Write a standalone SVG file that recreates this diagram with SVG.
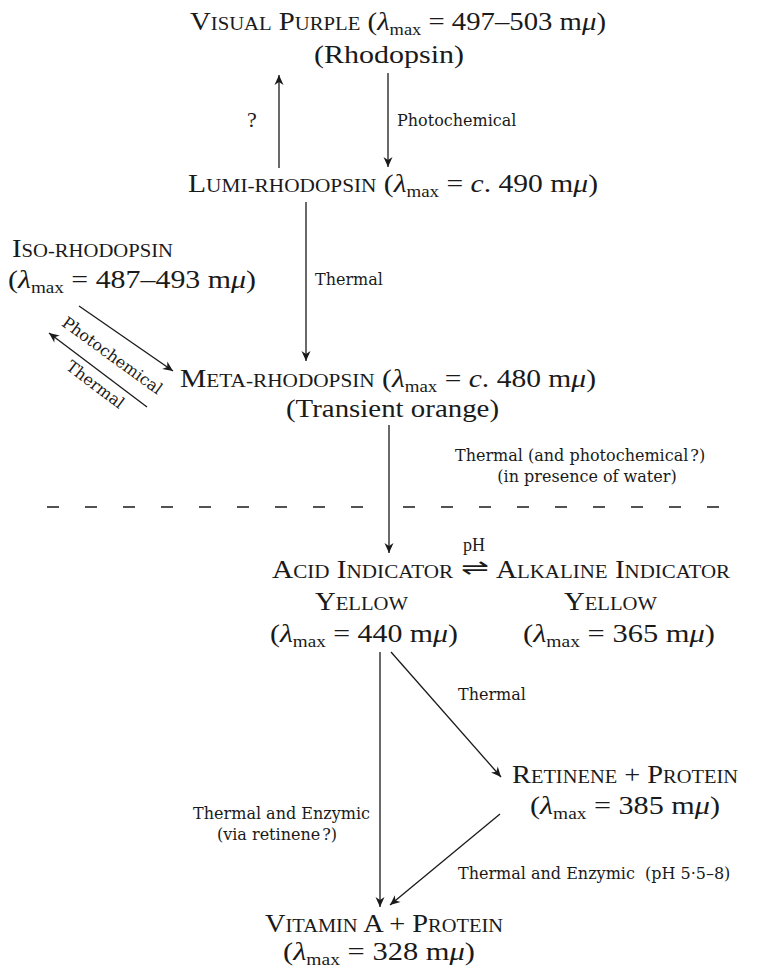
<svg xmlns="http://www.w3.org/2000/svg" width="781" height="968" viewBox="0 0 781 968">
<style>
.m{font-family:"Liberation Serif","Times New Roman",serif;font-size:25px;fill:#1a1a1a}
.sc{font-size:18px}
.sub{font-size:16px}
.it{font-style:italic}
.l{font-family:"DejaVu Serif",serif;font-size:16px;fill:#1a1a1a}
.c{stroke:#1a1a1a;stroke-width:1.3;fill:none}
.d{stroke:#1a1a1a;stroke-width:1.3;stroke-dasharray:12 26;fill:none}
</style>
<defs>
<marker id="ah" viewBox="-11 -6 12 12" refX="0" refY="0" markerWidth="12" markerHeight="12" markerUnits="userSpaceOnUse" orient="auto">
<path d="M0,0 L-10,-4.5 L-7,0 L-10,4.5 Z" fill="#1a1a1a"/>
</marker>
</defs>
<rect width="781" height="968" fill="#fff"/>

<g id="node-visual-purple">
<text class="m" x="190" y="30" textLength="416" lengthAdjust="spacingAndGlyphs">V<tspan class="sc">ISUAL</tspan> P<tspan class="sc">URPLE</tspan> (<tspan class="it">λ</tspan><tspan class="sub" dy="5">max</tspan><tspan dy="-5"> = 497–503 m</tspan><tspan class="it">μ</tspan>)</text>
<text class="m" x="314" y="63" textLength="150" lengthAdjust="spacingAndGlyphs">(Rhodopsin)</text>
</g>

<g id="node-lumi-rhodopsin">
<text class="m" x="188" y="192" textLength="410" lengthAdjust="spacingAndGlyphs">L<tspan class="sc">UMI-RHODOPSIN</tspan> (<tspan class="it">λ</tspan><tspan class="sub" dy="5">max</tspan><tspan dy="-5"> = </tspan><tspan class="it">c</tspan>. 490 m<tspan class="it">μ</tspan>)</text>
</g>

<g id="node-iso-rhodopsin">
<text class="m" x="12" y="257" textLength="161" lengthAdjust="spacingAndGlyphs">I<tspan class="sc">SO-RHODOPSIN</tspan></text>
<text class="m" x="8" y="288" textLength="248" lengthAdjust="spacingAndGlyphs">(<tspan class="it">λ</tspan><tspan class="sub" dy="5">max</tspan><tspan dy="-5"> = 487–493 m</tspan><tspan class="it">μ</tspan>)</text>
</g>

<g id="node-meta-rhodopsin">
<text class="m" x="180" y="387" textLength="416" lengthAdjust="spacingAndGlyphs">M<tspan class="sc">ETA-RHODOPSIN</tspan> (<tspan class="it">λ</tspan><tspan class="sub" dy="5">max</tspan><tspan dy="-5"> = </tspan><tspan class="it">c</tspan>. 480 m<tspan class="it">μ</tspan>)</text>
<text class="m" x="286" y="417" textLength="213" lengthAdjust="spacingAndGlyphs">(Transient orange)</text>
</g>

<g id="node-acid-indicator">
<text class="m" x="272" y="578" textLength="181" lengthAdjust="spacingAndGlyphs">A<tspan class="sc">CID</tspan> I<tspan class="sc">NDICATOR</tspan></text>
<text class="m" x="315" y="610" textLength="93" lengthAdjust="spacingAndGlyphs">Y<tspan class="sc">ELLOW</tspan></text>
<text class="m" x="270" y="642" textLength="188" lengthAdjust="spacingAndGlyphs">(<tspan class="it">λ</tspan><tspan class="sub" dy="5">max</tspan><tspan dy="-5"> = 440 m</tspan><tspan class="it">μ</tspan>)</text>
</g>

<g id="node-alkaline-indicator">
<text class="m" x="496" y="578" textLength="234" lengthAdjust="spacingAndGlyphs">A<tspan class="sc">LKALINE</tspan> I<tspan class="sc">NDICATOR</tspan></text>
<text class="m" x="564" y="610" textLength="93" lengthAdjust="spacingAndGlyphs">Y<tspan class="sc">ELLOW</tspan></text>
<text class="m" x="523" y="642" textLength="192" lengthAdjust="spacingAndGlyphs">(<tspan class="it">λ</tspan><tspan class="sub" dy="5">max</tspan><tspan dy="-5"> = 365 m</tspan><tspan class="it">μ</tspan>)</text>
</g>

<g id="node-retinene-protein">
<text class="m" x="512" y="783" textLength="226" lengthAdjust="spacingAndGlyphs">R<tspan class="sc">ETINENE</tspan> + P<tspan class="sc">ROTEIN</tspan></text>
<text class="m" x="530" y="814" textLength="190" lengthAdjust="spacingAndGlyphs">(<tspan class="it">λ</tspan><tspan class="sub" dy="5">max</tspan><tspan dy="-5"> = 385 m</tspan><tspan class="it">μ</tspan>)</text>
</g>

<g id="node-vitamin-a-protein">
<text class="m" x="265" y="932" textLength="238" lengthAdjust="spacingAndGlyphs">V<tspan class="sc">ITAMIN</tspan> A + P<tspan class="sc">ROTEIN</tspan></text>
<text class="m" x="283" y="960" textLength="192" lengthAdjust="spacingAndGlyphs">(<tspan class="it">λ</tspan><tspan class="sub" dy="5">max</tspan><tspan dy="-5"> = 328 m</tspan><tspan class="it">μ</tspan>)</text>
</g>

<g id="separator">
<line class="d" x1="47" y1="507" x2="363" y2="507"/>
<line class="d" x1="403" y1="507" x2="719" y2="507"/>
</g>

<g id="connectors">
<line class="c" x1="279" y1="168" x2="279" y2="75" marker-end="url(#ah)"/>
<line class="c" x1="388" y1="73" x2="388" y2="167" marker-end="url(#ah)"/>
<line class="c" x1="306" y1="202" x2="306" y2="361" marker-end="url(#ah)"/>
<line class="c" x1="79" y1="306" x2="173" y2="371" marker-end="url(#ah)"/>
<line class="c" x1="147" y1="407" x2="49" y2="333" marker-end="url(#ah)"/>
<line class="c" x1="389" y1="425" x2="389" y2="553" marker-end="url(#ah)"/>
<text class="m" x="461" y="575" textLength="28" lengthAdjust="spacingAndGlyphs" style="font-family:'DejaVu Sans',sans-serif;font-size:22px">⇌</text>
<line class="c" x1="380" y1="652" x2="380" y2="907" marker-end="url(#ah)"/>
<line class="c" x1="391" y1="652" x2="501" y2="777" marker-end="url(#ah)"/>
<line class="c" x1="500" y1="814" x2="390" y2="905" marker-end="url(#ah)"/>
</g>

<g id="labels">
<text class="m" x="252" y="127" text-anchor="middle" style="font-size:22px">?</text>
<text class="l" x="397" y="126">Photochemical</text>
<text class="l" x="315" y="285">Thermal</text>
<text class="l" text-anchor="middle" transform="translate(109,360) rotate(36)">Photochemical</text>
<text class="l" text-anchor="middle" transform="translate(92,389) rotate(37)">Thermal</text>
<text class="l" x="455" y="461">Thermal (and photochemical<tspan dx="2">?)</tspan></text>
<text class="l" x="587" y="482" text-anchor="middle">(in presence of water)</text>
<text class="m" x="474" y="551" text-anchor="middle" style="font-size:18px">pH</text>
<text class="l" x="458" y="700">Thermal</text>
<text class="l" x="370" y="819" text-anchor="end">Thermal and Enzymic</text>
<text class="l" x="277" y="840" text-anchor="middle">(via retinene<tspan dx="2">?)</tspan></text>
<text class="l" x="458" y="879">Thermal and Enzymic <tspan dx="5">(pH 5·5–8)</tspan></text>
</g>
</svg>
